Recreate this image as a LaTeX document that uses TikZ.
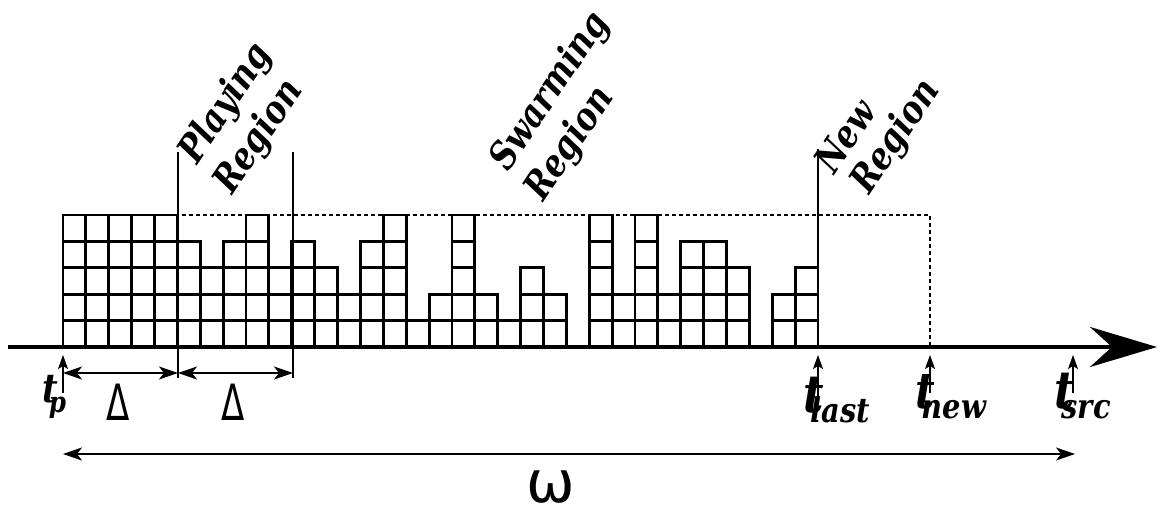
\documentclass[tikz,border=0pt]{standalone}
\usepackage{fontspec}
\usetikzlibrary{arrows.meta}
\newfontfamily\lblfont[FakeStretch=0.85]{DejaVu Serif}
\newfontfamily\dvsans{DejaVu Sans}
\newcommand\lblbi{\lblfont\bfseries\itshape}
\newcommand\tlabel[4]{{\lblbi\fontsize{#1}{#1}\selectfont t}\kern#4\lower10pt\hbox{\lblbi\fontsize{#2}{#2}\selectfont #3}}
\begin{document}
\begin{tikzpicture}[x=1pt,y=-1pt,
  cell/.style={draw=black,line width=2.9pt},
  guide/.style={draw=black,line width=1.5pt},
  dash line/.style={draw=black,line width=1.1pt,dash pattern=on 4pt off 3pt},
  axisline/.style={draw=black,line width=4pt,-{Stealth[length=67pt,width=40pt,inset=22pt]}},
  tickarrow/.style={draw=black,line width=1.3pt,-{Stealth[length=14pt,width=10pt,inset=3pt]}},
  span/.style={draw=black,line width=1.6pt,{Stealth[length=19pt,width=13pt,inset=5pt]}-{Stealth[length=19pt,width=13pt,inset=5pt]}},
  regionlbl/.style={anchor=base west,rotate=56,inner sep=0pt,font=\lblbi\fontsize{38}{38}\selectfont},
  tlbl/.style={anchor=base west,inner sep=0pt},
  symlbl/.style={anchor=base,inner sep=0pt}]
\useasboundingbox (0,0) rectangle (1160,508);
% coordinates
\coordinate (axisL) at (8,347);
\coordinate (axisR) at (1157,347);
\coordinate (tp) at (63,347);
\coordinate (pr) at (178,347);
\coordinate (pe) at (293,347);
\coordinate (tlast) at (818,347);
\coordinate (tnew) at (930,347);
\coordinate (tsrc) at (1073,347);
% dashed envelope
\draw[dash line] (63,215) -- (930,215) -- (tnew);
% cells
\foreach \h [count=\i from 0] in {5,5,5,5,5,4,3,4,5,3,4,3,2,4,5,1,2,5,2,1,3,2,0,5,2,5,2,4,4,3,0,2,3} {
  \ifnum\h>0
    \foreach \j in {1,...,\h} {
      \draw[cell] ({63+\i*22.88},{347-(\j-1)*26.4}) rectangle ++(22.88,-26.4);
    }
  \fi
}
% region boundaries
\draw[guide] (178,152) -- (178,378);
\draw[guide] (293,152) -- (293,378);
\draw[guide] (818,149) -- (tlast);
% axis
\draw[axisline] (axisL) -- (axisR);
% delta spans
\coordinate (d0) at (63,373);
\coordinate (d1) at (178,373);
\coordinate (d2) at (293,373);
\draw[span] (d0) -- (d1);
\draw[span] (d1) -- (d2);
% omega span
\coordinate (w0) at (63,454);
\coordinate (w1) at (1075,454);
\draw[span] (w0) -- (w1);
% labels
\node[symlbl] (delta1) at (118,420) {\dvsans\fontsize{50}{50}\selectfont\scalebox{0.68}[1]{Δ}};
\node[symlbl] (delta2) at (233,420) {\dvsans\fontsize{50}{50}\selectfont\scalebox{0.68}[1]{Δ}};
\node[symlbl] (omega) at (551,502) {\dvsans\fontsize{58}{58}\selectfont\raisebox{0pt}[\height][0pt]{ω}};
\node[tlbl] (ltp) at (42,402) {\tlabel{40}{29}{p}{-9pt}};
\node[tlbl] (ltlast) at (803,412) {\tlabel{52}{34}{last}{-13pt}};
\node[tlbl] (ltnew) at (915,408) {\tlabel{50}{34}{new}{-13pt}};
\node[tlbl] (ltsrc) at (1054,408) {\tlabel{52}{34}{src}{-13pt}};
% tick arrows
\coordinate (tpb) at (63,393);
\coordinate (tlastb) at (818,400);
\coordinate (tnewb) at (930,393);
\coordinate (tsrcb) at (1073,393);
\draw[tickarrow] (tpb) -- ([yshift=-8pt]tp);
\draw[tickarrow] (tlastb) -- ([yshift=-8pt]tlast);
\draw[tickarrow] (tnewb) -- ([yshift=-8pt]tnew);
\draw[tickarrow] (tsrcb) -- ([yshift=-8pt]tsrc);
% region labels
\node[regionlbl] (play1) at (197,166) {Playing};
\node[regionlbl] (play2) at (232,196) {Region};
\node[regionlbl] (swarm1) at (508,173) {Swarming};
\node[regionlbl] (swarm2) at (543,203) {Region};
\node[regionlbl] (new1) at (834,176) {New};
\node[regionlbl] (new2) at (869,196) {Region};
\end{tikzpicture}
\end{document}
